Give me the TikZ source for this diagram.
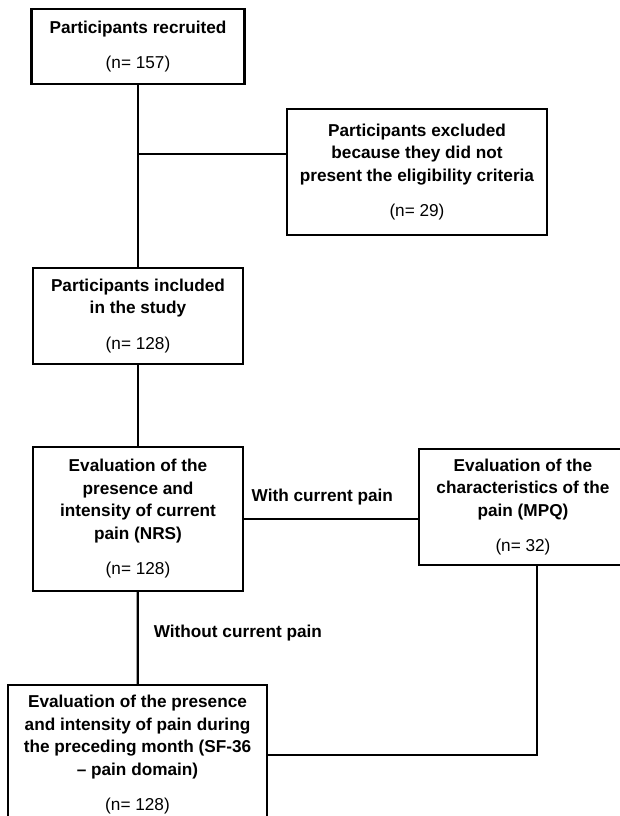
\documentclass[tikz,border=0pt]{standalone}
\usepackage{fontspec}
\setmainfont{Liberation Sans}

\begin{document}
\begin{tikzpicture}[x=1pt,y=-1pt,line width=2.2pt,
  box/.style={rectangle,draw,align=center,inner sep=0pt,font=\fontsize{17.2}{22.5}\selectfont},
  lbl/.style={inner sep=0pt,font=\fontsize{17.2}{22.5}\selectfont\bfseries}]
\clip (0,0) rectangle (620,816);
\fill[white] (0,0) rectangle (620,816);

\path (138,46.5) node[box,minimum width=213pt,minimum height=75pt] (rec) {\textbf{Participants recruited}\\[13pt](n= 157)};

\path (417,172) node[box,minimum width=260pt,minimum height=126pt] (exc) {\textbf{Participants excluded}\\\textbf{because they did not}\\\textbf{present the eligibility criteria}\\[13pt](n= 29)};

\path (138,316) node[box,minimum width=210pt,minimum height=96pt] (inc) {\textbf{Participants included}\\\textbf{in the study}\\[13pt](n= 128)};

\path (138,519) node[box,minimum width=210pt,minimum height=144pt] (nrs) {\textbf{Evaluation of the}\\\textbf{presence and}\\\textbf{intensity of current}\\\textbf{pain (NRS)}\\[13pt](n= 128)};

\path (523,507) node[box,minimum width=208pt,minimum height=116pt] (mpq) {\textbf{Evaluation of the}\\\textbf{characteristics of the}\\\textbf{pain (MPQ)}\\[13pt](n= 32)};

\path (137.5,755) node[box,minimum width=259pt,minimum height=140pt] (sf) {\textbf{Evaluation of the presence}\\\textbf{and intensity of pain during}\\\textbf{the preceding month (SF-36}\\\textbf{-- pain domain)}\\[13pt](n= 128)};

\coordinate (split) at (138,154);
\draw (rec) -- (inc);
\draw (split) -- (split -| exc.west);

\draw (inc) -- (nrs);
\draw (nrs.east |- 0,519) -- node[lbl,above=13pt,pos=0.45]{With current pain} (mpq.west |- 0,519);
\draw (nrs) -- node[lbl,right=15pt,pos=0.45]{Without current pain} (sf);
\draw ([xshift=14pt]mpq.south) |- (sf.east);
\end{tikzpicture}
\end{document}
